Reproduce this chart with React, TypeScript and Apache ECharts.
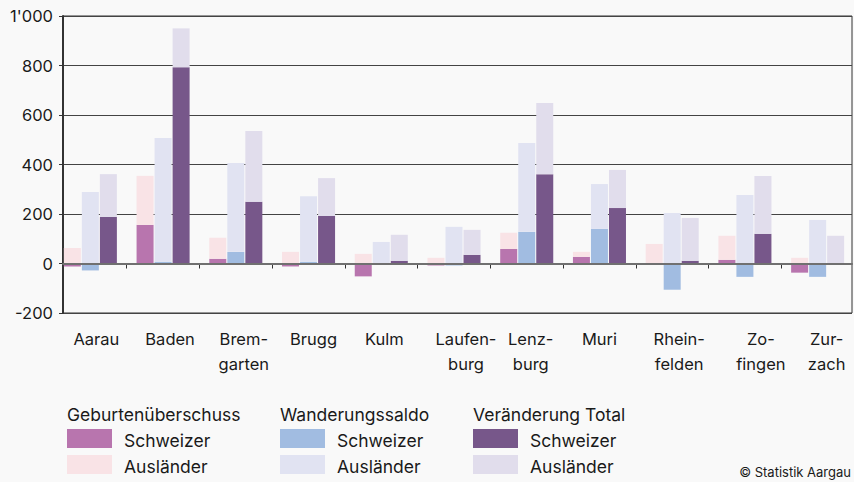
import React, { useEffect, useRef } from "react";
import * as echarts from "echarts";

const categories = [
  "Aarau",
  "Baden",
  "Brem-\ngarten",
  "Brugg",
  "Kulm",
  "Laufen-\nburg",
  "Lenz-\nburg",
  "Muri",
  "Rhein-\nfelden",
  "Zo-\nfingen",
  "Zur-\nzach",
];

const gebSchweizer = [-12, 156, 19, -12, -52, -8, 59, 27, 0, 15, -37];
const gebAuslaender = [63, 198, 85, 47, 39, 23, 65, 20, 79, 97, 23];
const wandSchweizer = [-28, 7, 47, 7, -3, -8, 128, 140, -106, -54, -54];
const wandAuslaender = [289, 500, 359, 265, 87, 148, 359, 181, 204, 277, 176];
const totalSchweizer = [188, 793, 249, 192, 11, 35, 361, 224, 11, 120, 0];
const totalAuslaender = [173, 157, 286, 153, 105, 101, 287, 154, 173, 234, 112];

const yTicks = [-200, 0, 200, 400, 600, 800, 1000];
const yTickLabels = ["-200", "0", "200", "400", "600", "800", "1'000"];

const groupTitles = ["Geburtenüberschuss", "Wanderungssaldo", "Veränderung Total"];
const subLabels = ["Schweizer", "Ausländer"];

// horizontal nudge (px) of each category label, as placed in the reference
const labelShift = [6, 7, 8, 5, 3, 12, 4, 0, 7, 16, 9];

const colors = {
  gebS: "#b875ae",
  gebA: "#f9e3e6",
  wandS: "#a1bce1",
  wandA: "#e1e3f2",
  totS: "#77578a",
  totA: "#e1ddec",
};

const FONT = "Inter";
const TXT = "#1a1a1a";

export default function App() {
  const ref = useRef<HTMLDivElement>(null);

  useEffect(() => {
    if (!ref.current) return;
    const chart = echarts.init(ref.current, undefined, { renderer: "svg" });

    const mkBar = (name: string, stack: string, data: number[], color: string) => ({
      name,
      type: "bar",
      stack,
      xAxisIndex: 1,
      yAxisIndex: 1,
      data,
      barWidth: 17,
      barGap: "6%",
      itemStyle: { color },
      z: 2,
    });

    const rich: any = {};
    labelShift.forEach((s, i) => {
      rich["l" + i] = {
        fontSize: 16.5,
        lineHeight: 25,
        fontFamily: FONT,
        color: TXT,
        padding: [0, 0, 0, 2 * s],
      };
    });

    const legendCols = [
      { x: 67, s: colors.gebS, a: colors.gebA },
      { x: 280, s: colors.wandS, a: colors.wandA },
      { x: 473, s: colors.totS, a: colors.totA },
    ];
    const graphics: any[] = [];
    const LF = `17.5px ${FONT}`;
    legendCols.forEach((c, i) => {
      graphics.push({
        type: "text",
        x: c.x,
        y: 414,
        style: { text: groupTitles[i], font: LF, fill: TXT, textVerticalAlign: "middle" },
      });
      graphics.push({
        type: "rect",
        shape: { x: c.x, y: 429, width: 45, height: 19 },
        style: { fill: c.s },
      });
      graphics.push({
        type: "rect",
        shape: { x: c.x, y: 455, width: 45, height: 19 },
        style: { fill: c.a },
      });
      graphics.push({
        type: "text",
        x: c.x + 57,
        y: 440,
        style: { text: subLabels[0], font: LF, fill: TXT, textVerticalAlign: "middle" },
      });
      graphics.push({
        type: "text",
        x: c.x + 57,
        y: 466,
        style: { text: subLabels[1], font: LF, fill: TXT, textVerticalAlign: "middle" },
      });
    });
    graphics.push({
      type: "text",
      x: 851,
      y: 472,
      style: {
        text: "© Statistik Aargau",
        font: `13px ${FONT}`,
        fill: TXT,
        textAlign: "right",
        textVerticalAlign: "middle",
      },
    });

    const option: any = {
      animation: false,
      backgroundColor: "#f9f9f9",
      textStyle: { fontFamily: FONT },
      grid: [
        {
          left: 63,
          right: 2,
          top: 16,
          bottom: 169,
          show: true,
          borderColor: "#333",
          borderWidth: 1,
          backgroundColor: "transparent",
        },
        { left: 54, right: -8.5, top: 16, bottom: 169 },
      ],
      xAxis: [
        {
          gridIndex: 0,
          type: "value",
          min: 0,
          max: 1,
          z: 10,
          axisLine: { show: true, onZero: true, lineStyle: { color: "#707070", width: 2 } },
          axisTick: { show: false },
          axisLabel: { show: false },
          splitLine: { show: false },
        },
        {
          gridIndex: 1,
          type: "category",
          data: categories,
          axisLine: { show: false },
          axisTick: {
            show: true,
            length: 5,
            interval: (index: number) => index !== 0,
            lineStyle: { color: "#333", width: 1 },
          },
          axisLabel: {
            interval: 0,
            margin: 13,
            fontSize: 16.5,
            lineHeight: 25,
            color: TXT,
            fontFamily: FONT,
            formatter: (value: string, index: number) => {
              return value
                .split("\n")
                .map((line) => `{l${index}|${line}}`)
                .join("\n");
            },
            rich,
          },
        },
      ],
      yAxis: [
        {
          gridIndex: 0,
          type: "value",
          min: -200,
          max: 1000,
          interval: 200,
          axisLine: { show: true, lineStyle: { color: "#333", width: 2 } },
          axisTick: { show: true, length: 4, lineStyle: { color: "#333" } },
          axisLabel: {
            margin: 10,
            fontSize: 16.5,
            color: TXT,
            fontFamily: FONT,
            formatter: (v: number) => {
              const i = yTicks.indexOf(v);
              return i >= 0 ? yTickLabels[i] : String(v);
            },
          },
          splitLine: { show: true, lineStyle: { color: "#444", width: 1 } },
        },
        {
          gridIndex: 1,
          type: "value",
          min: -200,
          max: 1000,
          interval: 200,
          show: false,
          splitLine: { show: false },
        },
      ],
      series: [
        mkBar("Geburtenüberschuss Schweizer", "geb", gebSchweizer, colors.gebS),
        mkBar("Geburtenüberschuss Ausländer", "geb", gebAuslaender, colors.gebA),
        mkBar("Wanderungssaldo Schweizer", "wand", wandSchweizer, colors.wandS),
        mkBar("Wanderungssaldo Ausländer", "wand", wandAuslaender, colors.wandA),
        mkBar("Veränderung Total Schweizer", "tot", totalSchweizer, colors.totS),
        mkBar("Veränderung Total Ausländer", "tot", totalAuslaender, colors.totA),
      ],
      graphic: graphics,
    };

    chart.setOption(option);
    return () => chart.dispose();
  }, []);

  return (
    <div
      ref={ref}
      style={{ position: "fixed", left: 0, top: 0, width: 854, height: 482 }}
    />
  );
}
